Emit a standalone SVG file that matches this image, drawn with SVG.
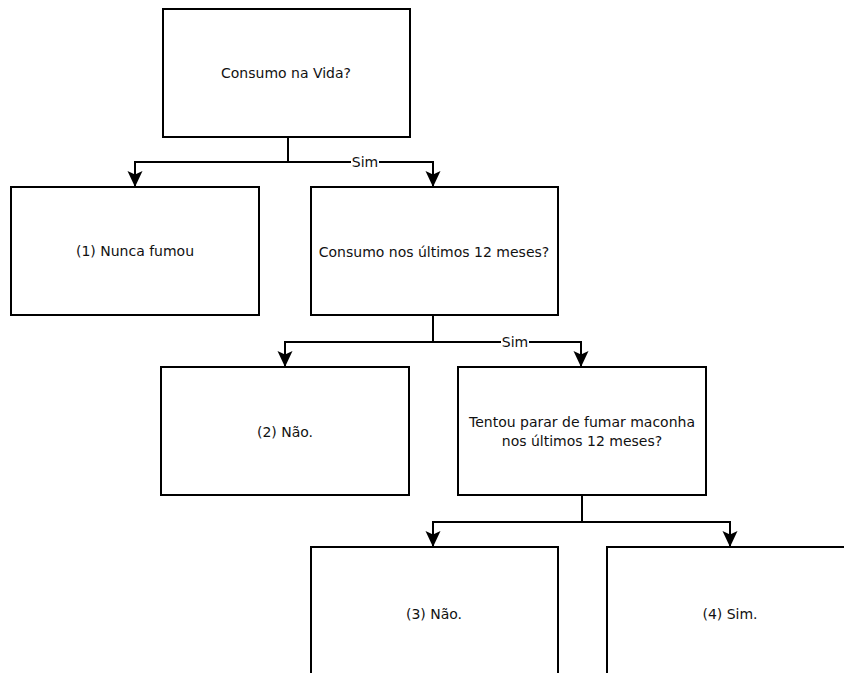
<svg xmlns="http://www.w3.org/2000/svg" width="844" height="673" viewBox="0 0 844 673">
<style>
.box{fill:#fff;stroke:#000;stroke-width:2}
.t{font-family:"DejaVu Sans",Verdana,sans-serif;font-size:14px;fill:#111;text-anchor:middle;dominant-baseline:central}
.c{fill:none;stroke:#000;stroke-width:2}
.lbl{font-family:"DejaVu Sans",Verdana,sans-serif;font-size:14px;fill:#111;text-anchor:middle;dominant-baseline:central}
</style>
<defs>
<marker id="arr" markerWidth="18" markerHeight="16" refX="15" refY="7.5" orient="auto" markerUnits="userSpaceOnUse">
<path d="M0,0 L16,7.5 L0,15 L3.5,7.5 Z" fill="#000"/>
</marker>
</defs>
<rect width="844" height="673" fill="#fff"/>
<g id="connectors">
<path class="c" d="M288,137 V162 H135 V186" marker-end="url(#arr)"/>
<path class="c" d="M288,162 H433 V186" marker-end="url(#arr)"/>
<rect x="351" y="154" width="28" height="16" fill="#fff"/>
<text class="lbl" x="365" y="162">Sim</text>
<path class="c" d="M433,315 V342 H285 V366" marker-end="url(#arr)"/>
<path class="c" d="M433,342 H581 V366" marker-end="url(#arr)"/>
<rect x="501" y="334" width="28" height="16" fill="#fff"/>
<text class="lbl" x="515" y="342">Sim</text>
<path class="c" d="M582,495 V522 H433 V546" marker-end="url(#arr)"/>
<path class="c" d="M582,522 H730 V546" marker-end="url(#arr)"/>
</g>
<g id="n1"><rect class="box" x="163" y="9" width="247" height="128"/><text class="t" x="286" y="73">Consumo na Vida?</text></g>
<g id="n2"><rect class="box" x="11" y="187" width="248" height="128"/><text class="t" x="135" y="251">(1) Nunca fumou</text></g>
<g id="n3"><rect class="box" x="311" y="187" width="247" height="128"/><text class="t" x="434" y="252">Consumo nos últimos 12 meses?</text></g>
<g id="n4"><rect class="box" x="161" y="367" width="248" height="128"/><text class="t" x="285" y="432">(2) Não.</text></g>
<g id="n5"><rect class="box" x="458" y="367" width="248" height="128"/><text class="t" x="582" y="422">Tentou parar de fumar maconha</text><text class="t" x="582" y="441">nos últimos 12 meses?</text></g>
<g id="n6"><rect class="box" x="311" y="547" width="247" height="140"/><text class="t" x="434" y="614">(3) Não.</text></g>
<g id="n7"><rect class="box" x="607" y="547" width="248" height="140"/><text class="t" x="730" y="614">(4) Sim.</text></g>
</svg>
